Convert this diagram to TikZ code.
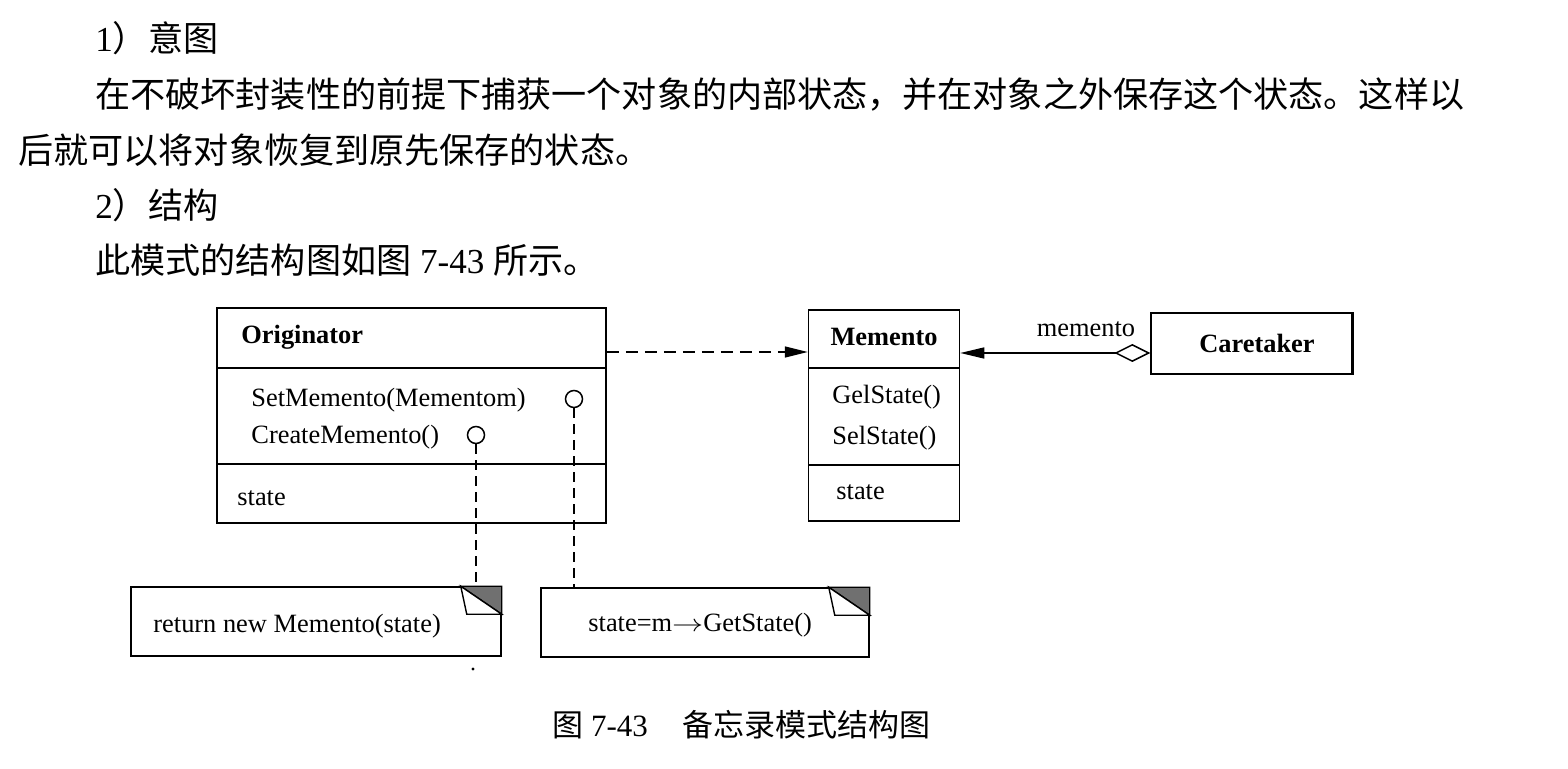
\documentclass[tikz,border=0pt]{standalone}
\usepackage{fontspec}
\usepackage{graphicx}
\setmainfont{Liberation Serif}
\newfontfamily\cjk{Noto Sans CJK SC}
\usetikzlibrary{arrows.meta,calc}
\definecolor{foldgray}{RGB}{112,112,112}
\newcommand\notefold[1]{%
  \filldraw[fill=foldgray,line width=0.7pt] ($(#1.north east)+(-41,0)$) -- (#1.north east) -- ($(#1.north east)+(0,28)$) -- cycle;
  \filldraw[fill=white,line width=0.7pt] ($(#1.north east)+(-41,0)$) -- ($(#1.north east)+(-35,28)$) -- ($(#1.north east)+(0,28)$) -- cycle;
}
\begin{document}
\begin{tikzpicture}[x=0.5pt,y=-0.5pt,
  body/.style={anchor=west,inner sep=0pt,font=\fontsize{17.55pt}{20pt}\selectfont},
  captext/.style={anchor=west,inner sep=0pt,font=\fontsize{15.5pt}{17pt}\selectfont},
  uml/.style={anchor=west,inner sep=0pt,font=\fontsize{13.2pt}{15pt}\selectfont},
  umlb/.style={inner sep=0pt,font=\fontsize{13.2pt}{15pt}\selectfont\bfseries},
  box/.style={draw,line width=0.75pt,inner sep=0pt},
  pin/.style={circle,draw,line width=0.75pt,minimum size=8.5pt,inner sep=0pt,fill=white},
  dep/.style={line width=0.75pt,dash pattern=on 6pt off 3.5pt,-{Triangle[length=11.5pt,width=5.5pt]}},
  agg/.style={line width=0.75pt,{Triangle[length=12pt,width=5.5pt]}-{Diamond[open,length=18pt,width=9pt]}},
  anchorline/.style={line width=0.75pt,dash pattern=on 5pt off 3pt}
]
\useasboundingbox (0,0) rectangle (1568,769);

% ---- text above ----
\node[body] (h1) at (95,38) {1{\cjk ）意图}};
\node[body] (p1) at (95,95) {\cjk 在不破坏封装性的前提下捕获一个对象的内部状态，并在对象之外保存这个状态。这样以};
\node[body] (p2) at (18,150) {\cjk 后就可以将对象恢复到原先保存的状态。};
\node[body] (h2) at (95,205) {2{\cjk ）结构}};
\node[body] (p3) at (95,260) {{\cjk 此模式的结构图如图} 7-43 {\cjk 所示。}};

% ---- Originator ----
\node[box,minimum width=194.5pt,minimum height=30pt] (origtop) at (411.5,338) {};
\node[box,minimum width=194.5pt,minimum height=48pt] (origops) at (411.5,416) {};
\node[box,minimum width=194.5pt,minimum height=29.5pt] (origattr) at (411.5,493.5) {};
\node[umlb,anchor=west] (origname) at (241,337) {Originator};
\node[uml] (setm) at (251,400) {SetMemento(Mementom)};
\node[uml] (createm) at (251,437) {CreateMemento()};
\node[uml] (ostate) at (237,498) {state};
\node[pin] (pinset) at (574,399) {};
\node[pin] (pincreate) at (476,435) {};

% ---- Memento ----
\node[box,minimum width=75.5pt,minimum height=29pt] (memtop) at (884,339) {};
\node[box,minimum width=75.5pt,minimum height=48.5pt] (memops) at (884,416.5) {};
\node[box,minimum width=75.5pt,minimum height=28pt] (memattr) at (884,493) {};
\node[umlb] (memname) at (884,337) {Memento};
\node[uml] (gets) at (832,397) {GelState()};
\node[uml] (sets) at (832,438) {SelState()};
\node[uml] (mstate) at (836,492) {state};

% ---- Caretaker ----
\node[box,minimum width=100.5pt,minimum height=30.5pt] (care) at (1251.5,343.5) {};
\draw[line width=1.6pt] (care.north east) -- (care.south east);
\node[umlb] (carename) at (1257,343) {Caretaker};

% ---- connectors ----
\coordinate (depy) at (0,352);
\coordinate (aggy) at (0,353);
\draw[dep] (origtop.east |- depy) -- (memtop.west |- depy);
\draw[agg] (memtop.east |- aggy) -- (care.west |- aggy);
\node[uml,anchor=center] (aggl) at (1086,329) {memento};

% ---- notes ----
\node[box,minimum width=185pt,minimum height=34.5pt] (note1) at (316,621.5) {};
\node[box,minimum width=164pt,minimum height=34.5pt] (note2) at (705,622.5) {};
\notefold{note1}
\notefold{note2}
\node[uml] (n1t) at (153,626) {return new Memento(state)};
\node[uml] (n2t) at (588,625) {state=m\scalebox{1.3}[1]{$\rightarrow$}GetState()};
\draw[anchorline] (pincreate.south) -- (pincreate.south |- note1.north);
\draw[anchorline] (pinset.south) -- (pinset.south |- note2.north);
\fill (473,669) circle (0.8pt);

% ---- caption ----
\node[captext] (capa) at (552,725) {{\cjk 图} 7-43};
\node[captext] (capb) at (682,725) {\cjk 备忘录模式结构图};
\end{tikzpicture}
\end{document}
